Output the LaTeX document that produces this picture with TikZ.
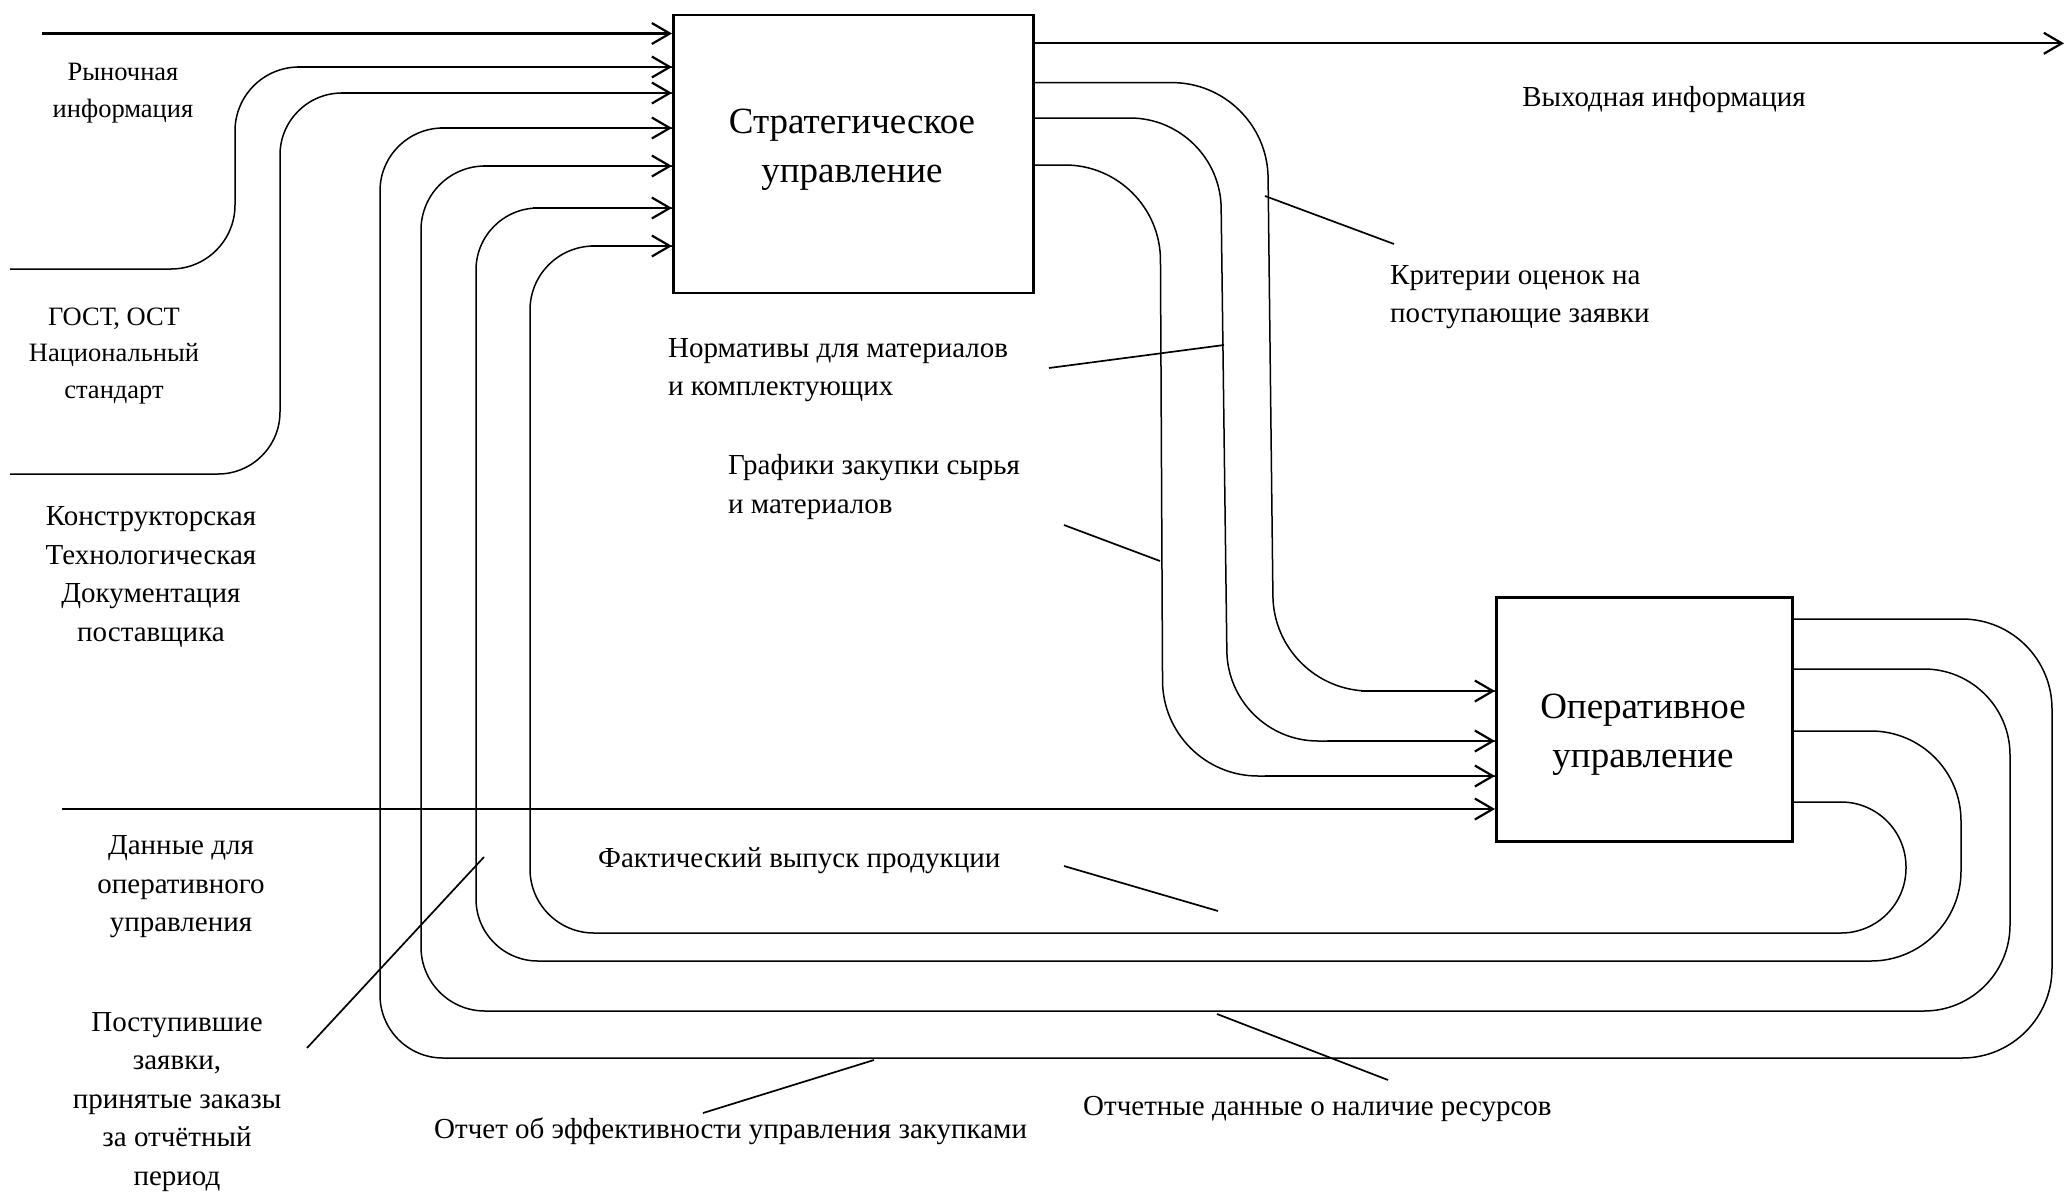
\documentclass[tikz,border=0pt]{standalone}
\usepackage{fontspec}
\setmainfont{Liberation Serif}
\usetikzlibrary{arrows.meta}

\begin{document}
\begin{tikzpicture}[x=1pt,y=-1pt,
  box/.style={draw, line width=2.6pt, inner sep=0pt},
  flow/.style={line width=1.5pt},
  feed/.style={line width=2.3pt, -{Straight Barb[length=18pt,width=21pt,line width=2.2pt]}},
  leader/.style={line width=1.7pt},
  lbl/.style={font=\fontsize{29}{38.5}\selectfont, inner sep=0pt, align=center},
  smalllbl/.style={font=\fontsize{26.5}{36.5}\selectfont, inner sep=0pt, align=center},
  leftlbl/.style={font=\fontsize{29}{38.5}\selectfont, inner sep=0pt, align=left, anchor=west},
  title/.style={font=\fontsize{37}{49}\selectfont, inner sep=0pt, align=center}
]
\useasboundingbox (0,0) rectangle (2067,1192);

% function blocks
\node[box, minimum width=360pt, minimum height=278pt, anchor=north west] (strat) at (672,13.5) {};
\node[box, minimum width=296pt, minimum height=244pt, anchor=north west] (oper) at (1495,596) {};
\node[title] (stratT) at (852,150) {Стратегическое\\управление};
\node[title] (operT) at (1643,735) {Оперативное\\управление};

% free ends
\coordinate (m1) at (41.5,33.5);
\coordinate (m2) at (10,269);
\coordinate (m3) at (10,474);
\coordinate (d0) at (61.6,809);
\coordinate (out) at (2064,43.3);

% inputs of the strategic block
\draw[feed] (m1) -- (strat.west |- m1);
\draw[flow, rounded corners=64pt] (m2) -- (235,269) -- (235,67) -- (strat.west |- 0,67);
\draw[feed] (297,67) -- (strat.west |- 0,67);
\draw[flow, rounded corners=62pt] (m3) -- (280,474) -- (280,93) -- (strat.west |- 0,93);
\draw[feed] (341,93) -- (strat.west |- 0,93);

% output of the strategic block
\draw[feed] (strat.east |- out) -- (out);

% strategic -> operational
\draw[flow, rounded corners=95pt] (strat.east |- 0,82.6) -- (1267,82.6) -- (1274,691) -- (oper.west |- 0,691);
\draw[feed] (1361,691) -- (oper.west |- 0,691);
\draw[flow, rounded corners=90pt] (strat.east |- 0,118) -- (1220,118) -- (1228,741) -- (oper.west |- 0,741);
\draw[feed] (1327,741) -- (oper.west |- 0,741);
\draw[flow, rounded corners=95pt] (strat.east |- 0,165) -- (1160,165) -- (1163,776) -- (oper.west |- 0,776);
\draw[feed] (1265,776) -- (oper.west |- 0,776);

% operational data input
\draw[feed] (d0) -- (oper.west |- d0);

% feedback loops operational -> strategic
\draw[flow] (oper.east |- 0,619) [rounded corners=90pt] -- (2052,619) -- (2052,1058)
  [rounded corners=63pt] -- (380,1058) -- (380,128) -- (strat.west |- 0,128);
\draw[feed] (440,128) -- (strat.west |- 0,128);
\draw[flow] (oper.east |- 0,669) [rounded corners=86pt] -- (2010,669) -- (2010,1011)
  [rounded corners=64pt] -- (421,1011) -- (421,166) -- (strat.west |- 0,166);
\draw[feed] (483,166) -- (strat.west |- 0,166);
\draw[flow] (oper.east |- 0,731) [rounded corners=90pt] -- (1961,731) -- (1961,961)
  [rounded corners=62pt] -- (476,961) -- (476,208) -- (strat.west |- 0,208);
\draw[feed] (533,208) -- (strat.west |- 0,208);
\draw[flow] (oper.east |- 0,802) [rounded corners=65pt] -- (1906,802) -- (1906,933)
  [rounded corners=64pt] -- (530,933) -- (530,246) -- (strat.west |- 0,246);
\draw[feed] (591,246) -- (strat.west |- 0,246);

% labels
\node[smalllbl] (lMarket) at (123,93) {Рыночная\\информация};
\node[smalllbl] (lGost) at (114,356) {ГОСТ, ОСТ\\Национальный\\стандарт};
\node[lbl] (lDoc) at (151,577) {Конструкторская\\Технологическая\\Документация\\поставщика};
\node[lbl] (lData) at (181,887) {Данные для\\оперативного\\управления};
\node[lbl] (lOrders) at (177,1102) {Поступившие\\заявки,\\принятые заказы\\за отчётный\\период};
\node[lbl] (lOut) at (1664,100) {Выходная информация};
\node[leftlbl] (lCrit) at (1390,297) {Критерии оценок на\\поступающие заявки};
\node[leftlbl] (lNorm) at (668,370) {Нормативы для материалов\\и комплектующих};
\node[leftlbl] (lSched) at (728,487) {Графики закупки сырья\\и материалов};
\node[leftlbl] (lFact) at (598,861) {Фактический выпуск продукции};
\node[leftlbl] (lRep) at (434,1131) {Отчет об эффективности управления закупками};
\node[leftlbl] (lRes) at (1083,1109) {Отчетные данные о наличие ресурсов};

% leader lines
\draw[leader] (1265,196) -- (1394,244);
\draw[leader] (1049,368) -- (1224,345);
\draw[leader] (1064,525) -- (1160,561);
\draw[leader] (1064,866) -- (1218,911);
\draw[leader] (484,857) -- (307,1048);
\draw[leader] (874,1060) -- (703,1113);
\draw[leader] (1217,1014) -- (1388,1080);
\end{tikzpicture}
\end{document}
